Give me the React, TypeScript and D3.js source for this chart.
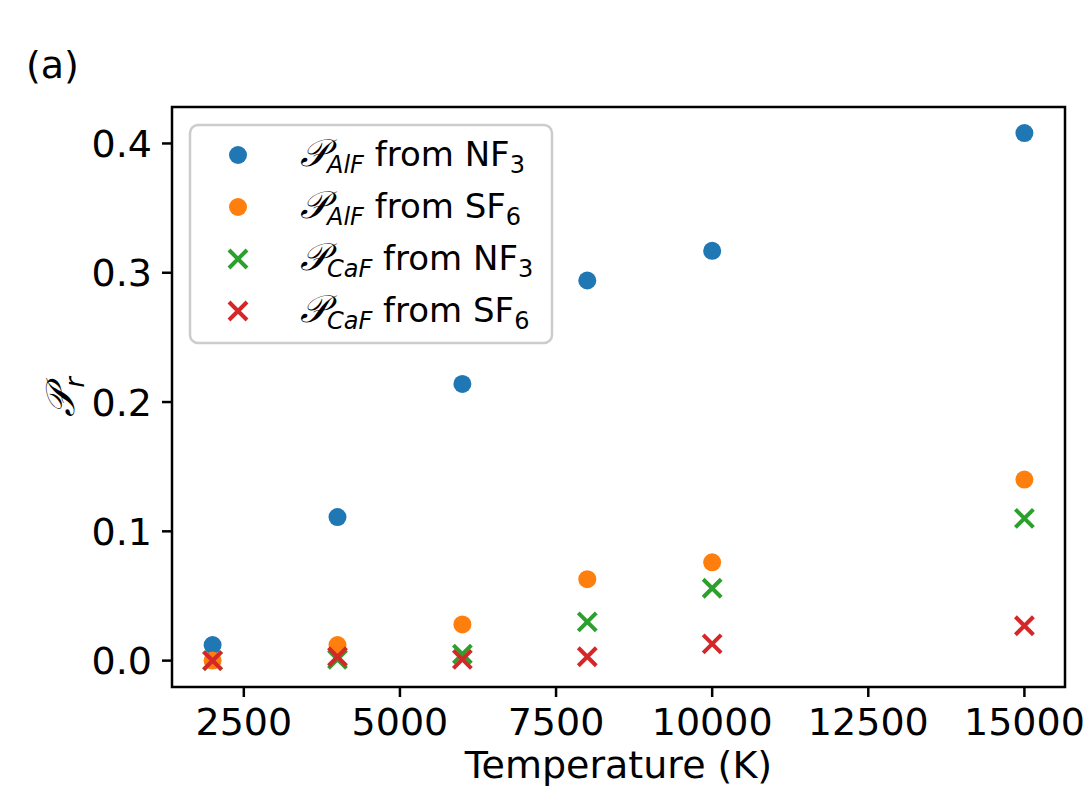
import React from 'react';
import * as d3 from 'd3';

// temperatures (K) and reaction probabilities
const temperatures = [2000, 4000, 6000, 8000, 10000, 15000];
const alfFromNF3 = [0.012, 0.111, 0.214, 0.294, 0.317, 0.408];
const alfFromSF6 = [0.0, 0.012, 0.028, 0.063, 0.076, 0.140];
const cafFromNF3 = [0.0, 0.001, 0.005, 0.030, 0.056, 0.110];
const cafFromSF6 = [0.0, 0.003, 0.001, 0.003, 0.013, 0.027];

const xTicks = [2500, 5000, 7500, 10000, 12500, 15000];
const yTicks = [0.0, 0.1, 0.2, 0.3, 0.4];

const seriesList = [
    { mol: 'AlF', src: 'NF', sub: '3', values: alfFromNF3, marker: 'o', color: '#1f77b4' },
    { mol: 'AlF', src: 'SF', sub: '6', values: alfFromSF6, marker: 'o', color: '#ff7f0e' },
    { mol: 'CaF', src: 'NF', sub: '3', values: cafFromNF3, marker: 'x', color: '#2ca02c' },
    { mol: 'CaF', src: 'SF', sub: '6', values: cafFromSF6, marker: 'x', color: '#d62728' },
];

const W = 1087;
const H = 788;
const margin = { top: 107, right: 22, bottom: 101, left: 172 };
const font = 'DejaVu Sans, sans-serif';

const Marker: React.FC<{ kind: string; x: number; y: number; color: string }> = ({ kind, x, y, color }) => {
    if (kind === 'o') return <circle cx={x} cy={y} r={9} fill={color} />;
    const s = 9;
    return (
        <path
            d={`M${x - s},${y - s}L${x + s},${y + s}M${x - s},${y + s}L${x + s},${y - s}`}
            stroke={color}
            strokeWidth={4}
            fill="none"
        />
    );
};

const App: React.FC = () => {
    const x0 = margin.left;
    const x1 = W - margin.right;
    const y0 = H - margin.bottom;
    const y1 = margin.top;

    const xScale = d3.scaleLinear().domain([1350, 15650]).range([x0, x1]);
    const yScale = d3.scaleLinear().domain([-0.0204, 0.4282]).range([y0, y1]);

    const legendX = 190;
    const legendY = 125;
    const rowH = 52;

    return (
        <svg width={W} height={H} style={{ position: 'absolute', left: 0, top: 0, background: '#fff' }} fontFamily={font}>
            <rect x={0} y={0} width={W} height={H} fill="#fff" />
            <text x={26} y={78} fontSize={38}>(a)</text>

            {/* points */}
            {seriesList.map((s, si) => (
                <g key={si}>
                    {s.values.map((v, i) => (
                        <Marker key={i} kind={s.marker} x={xScale(temperatures[i])} y={yScale(v)} color={s.color} />
                    ))}
                </g>
            ))}

            {/* spines */}
            <rect x={x0} y={y1} width={x1 - x0} height={y0 - y1} fill="none" stroke="#000" strokeWidth={2.5} />

            {/* x ticks */}
            {xTicks.map(t => (
                <g key={t} transform={`translate(${xScale(t)},${y0})`}>
                    <line y2={10} stroke="#000" strokeWidth={2.5} />
                    <text y={48} textAnchor="middle" fontSize={38}>{t}</text>
                </g>
            ))}

            {/* y ticks */}
            {yTicks.map(t => (
                <g key={t} transform={`translate(${x0},${yScale(t)})`}>
                    <line x2={-10} stroke="#000" strokeWidth={2.5} />
                    <text x={-20} dy="0.36em" textAnchor="end" fontSize={38}>{t.toFixed(1)}</text>
                </g>
            ))}

            {/* axis labels */}
            <text x={(x0 + x1) / 2} y={778} textAnchor="middle" fontSize={38}>Temperature (K)</text>
            <text transform={`translate(${74},${(y0 + y1) / 2}) rotate(-90)`} textAnchor="middle" fontSize={40}>
                <tspan fontFamily="DejaVu Serif, serif" fontStyle="italic">𝒫</tspan>
                <tspan fontSize={26} dy={10} fontStyle="italic">r</tspan>
            </text>

            {/* legend */}
            <rect x={legendX} y={legendY} width={362} height={218} rx={8} fill="#fff" fillOpacity={0.8} stroke="#ccc" strokeWidth={2.5} />
            {seriesList.map((s, i) => {
                const cy = legendY + 30 + i * rowH;
                return (
                    <g key={i}>
                        <Marker kind={s.marker} x={238} y={cy} color={s.color} />
                        <text x={300} y={cy + 11} fontSize={34}>
                            <tspan fontFamily="DejaVu Serif, serif" fontStyle="italic" fontSize={38}>𝒫</tspan>
                            <tspan fontSize={24} dy={7} fontStyle="italic">{s.mol}</tspan>
                            <tspan dy={-7}> from {s.src}</tspan>
                            <tspan fontSize={24} dy={7}>{s.sub}</tspan>
                        </text>
                    </g>
                );
            })}
        </svg>
    );
};

export default App;
